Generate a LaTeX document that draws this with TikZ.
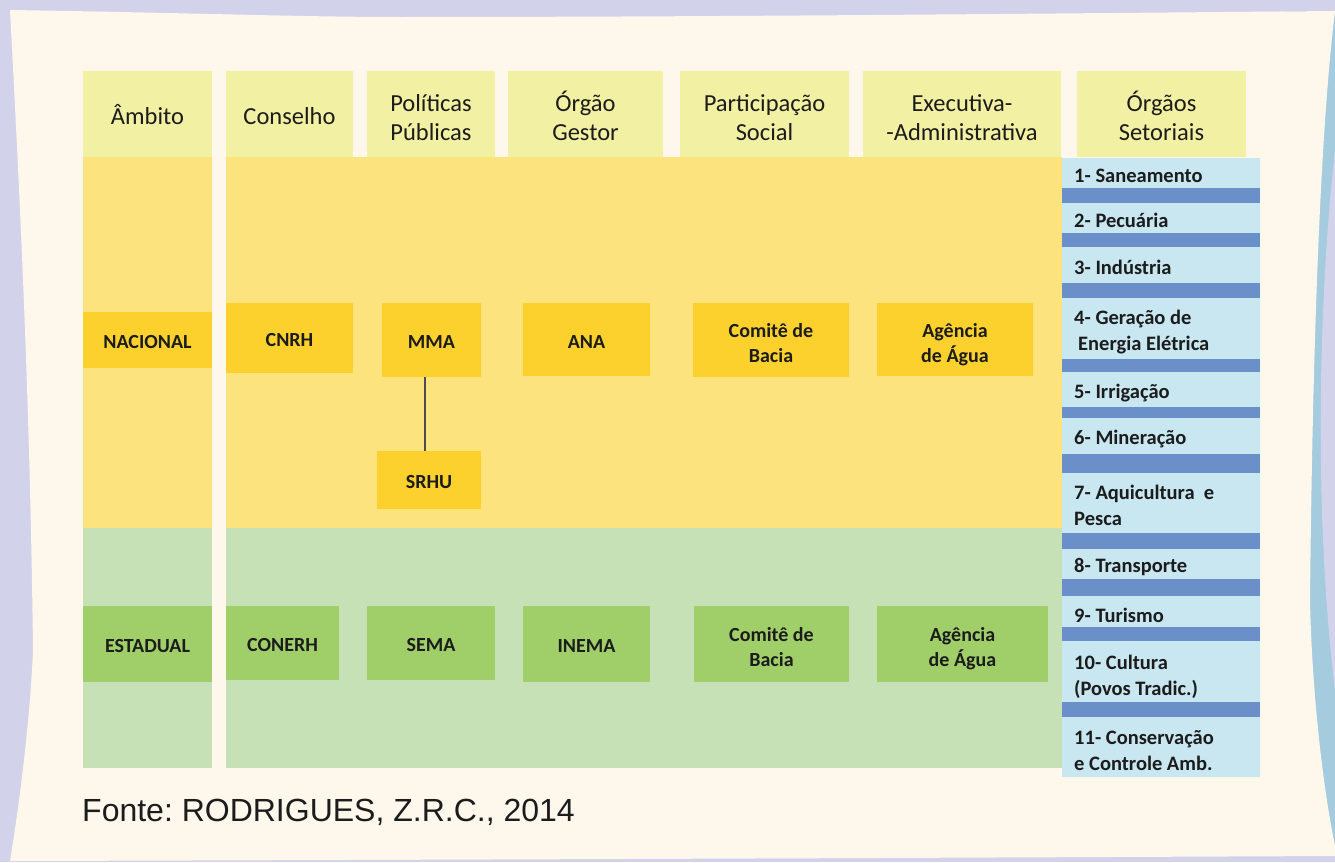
\documentclass[tikz,border=0pt]{standalone}
\usepackage{fontspec}
\setmainfont{Carlito}
\newfontfamily\arialf{Liberation Sans}
\usetikzlibrary{calc}
\frenchspacing
\definecolor{lav}{HTML}{D2D2EA}
\definecolor{paper}{HTML}{FDF7EC}
\definecolor{sliver}{HTML}{A5CBDF}
\definecolor{hdrc}{HTML}{F2F0A2}
\definecolor{ybody}{HTML}{FDE37D}
\definecolor{yboxc}{HTML}{FCD12E}
\definecolor{gbody}{HTML}{C6E1B5}
\definecolor{gboxc}{HTML}{A0CF6A}
\definecolor{sbody}{HTML}{C8E7F1}
\definecolor{sbar}{HTML}{6B90C9}
\definecolor{txt}{HTML}{1C1C1C}
\newcommand{\topst}[1]{\rule{0pt}{#1}}
\newcommand{\botst}[1]{\rule[-#1]{0pt}{#1}}
\newcommand{\hdrtwo}[2]{\topst{30pt}#1\\#2\botst{6pt}}
\newcommand{\boxtwo}[2]{\topst{25pt}#1\\#2\botst{5pt}}
\newcommand{\secttwo}[2]{\topst{20pt}#1\\#2\botst{5pt}}
\tikzset{
  hdr/.style={fill=hdrc, inner sep=0pt, align=center, text=txt,
    font=\fontsize{24.5}{29}\selectfont},
  ybox/.style={fill=yboxc, inner sep=0pt, align=center, text=txt,
    font=\fontsize{20}{25}\selectfont\bfseries},
  gbox/.style={ybox, fill=gboxc},
  sect/.style={anchor=west, inner sep=0pt, align=left, text=txt,
    font=\fontsize{20.5}{26}\selectfont\bfseries},
  link/.style={draw=black!70, line width=1.8pt}
}
\begin{document}
\begin{tikzpicture}[x=1pt,y=-1pt]
\useasboundingbox (0,0) rectangle (1335,862);
% background
\fill[lav] (0,0) rectangle (1335,862);
\fill[sliver] (1285,11) rectangle (1335,856);
\fill[lav] (1335,150) .. controls (1318,300) and (1314,520) .. (1335,690) -- cycle;
\fill[paper] (10,10) .. controls (200,13) and (300,17) .. (400,17)
  .. controls (700,17) and (1000,14) .. (1335,11)
  .. controls (1318,150) and (1312,400) .. (1310,600)
  .. controls (1312,700) and (1325,800) .. (1335,845)
  -- (1335,856) .. controls (900,858) and (400,860) .. (10,861)
  .. controls (20,800) and (30,720) .. (33,650)
  .. controls (30,400) and (20,200) .. (10,10) -- cycle;

% headers
\node[hdr, minimum width=129pt, minimum height=86pt] (h1) at (147.5,114) {\topst{26pt}Âmbito\botst{6pt}};
\node[hdr, minimum width=127pt, minimum height=86pt] (h2) at (289.5,114) {\topst{26pt}Conselho\botst{6pt}};
\node[hdr, minimum width=128pt, minimum height=86pt] (h3) at (431,114) {\hdrtwo{Políticas}{Públicas}};
\node[hdr, minimum width=155pt, minimum height=86pt] (h4) at (585.5,114) {\hdrtwo{Órgão}{Gestor}};
\node[hdr, minimum width=169pt, minimum height=86pt] (h5) at (764.5,114) {\hdrtwo{Participação}{Social}};
\node[hdr, minimum width=198pt, minimum height=86pt] (h6) at (962,114) {\hdrtwo{Executiva-}{-Administrativa}};
\node[hdr, minimum width=169pt, minimum height=86pt] (h7) at (1161.5,114) {\hdrtwo{Órgãos}{Setoriais}};

% bodies
\fill[ybody] (83,157) rectangle (212,528);
\fill[gbody] (83,528) rectangle (212,768);
\fill[ybody] (226,157) rectangle (1062,528);
\fill[gbody] (226,528) rectangle (1062,768);

% sector strip
\node[fill=sbody, inner sep=0pt, minimum width=198pt, minimum height=619pt] (setor) at (1161,467.5) {};
\foreach \a/\b in {188/203,233/247,283/298,359/372,407/418,454/473,533/549,579/596,627/641,702/717}
  \fill[sbar] (1062,\a) rectangle (1260,\b);

% national boxes
\node[ybox, minimum width=129pt, minimum height=56pt] (nac) at (147.5,340) {\topst{22pt}NACIONAL\botst{5pt}};
\node[ybox, minimum width=127pt, minimum height=70pt] (cnrh) at (289.5,338) {\topst{22pt}CNRH\botst{5pt}};
\node[ybox, minimum width=99pt, minimum height=74pt] (mma) at (431.5,340) {\topst{22pt}MMA\botst{5pt}};
\node[ybox, minimum width=127pt, minimum height=73pt] (ana) at (586.5,339.5) {\topst{22pt}ANA\botst{5pt}};
\node[ybox, minimum width=156pt, minimum height=74pt] (cb1) at (771,340) {\boxtwo{Comitê de}{Bacia}};
\node[ybox, minimum width=156pt, minimum height=73pt] (ag1) at (955,339.5) {\boxtwo{Agência}{de Água}};
\node[ybox, minimum width=104pt, minimum height=58pt] (srhu) at (429,480) {\topst{22pt}SRHU\botst{5pt}};
\draw[link] ([xshift=-6.5pt]mma.south) -- ([xshift=-6.5pt]mma.south |- srhu.north);

% state boxes
\node[gbox, minimum width=129pt, minimum height=76pt] (est) at (147.5,644) {\topst{22pt}ESTADUAL\botst{5pt}};
\node[gbox, minimum width=113pt, minimum height=74pt] (conerh) at (282.5,643) {\topst{22pt}CONERH\botst{5pt}};
\node[gbox, minimum width=128pt, minimum height=74pt] (sema) at (431,643) {\topst{22pt}SEMA\botst{5pt}};
\node[gbox, minimum width=127pt, minimum height=76pt] (inema) at (586.5,644) {\topst{22pt}INEMA\botst{5pt}};
\node[gbox, minimum width=155pt, minimum height=76pt] (cb2) at (771.5,644) {\boxtwo{Comitê de}{Bacia}};
\node[gbox, minimum width=171pt, minimum height=76pt] (ag2) at (962.5,644) {\boxtwo{Agência}{de Água}};

% sectors
\node[sect] (s1) at (1074,175) {\topst{19pt}1- Saneamento\botst{5pt}};
\node[sect] (s2) at (1074,220) {\topst{19pt}2- Pecuária\botst{5pt}};
\node[sect] (s3) at (1074,267) {\topst{19pt}3- Indústria\botst{5pt}};
\node[sect] (s4) at (1074,330) {\secttwo{4- Geração de}{\hspace{4pt}Energia Elétrica}};
\node[sect] (s5) at (1074,391) {\topst{19pt}5- Irrigação\botst{5pt}};
\node[sect] (s6) at (1074,437) {\topst{19pt}6- Mineração\botst{5pt}};
\node[sect] (s7) at (1074,504.5) {\secttwo{7- Aquicultura\ \ e}{Pesca}};
\node[sect] (s8) at (1074,565) {\topst{19pt}8- Transporte\botst{5pt}};
\node[sect] (s9) at (1074,615) {\topst{19pt}9- Turismo\botst{5pt}};
\node[sect] (s10) at (1074,674.5) {\secttwo{10- Cultura}{(Povos Tradic.)}};
\node[sect] (s11) at (1074,750) {\secttwo{11- Conservação}{e Controle Amb.}};

% source
\node[anchor=west, inner sep=0pt, text=txt, font=\arialf\fontsize{32}{36}\selectfont] (fonte) at (82,812) {Fonte: RODRIGUES, Z.R.C., 2014};
\end{tikzpicture}
\end{document}
